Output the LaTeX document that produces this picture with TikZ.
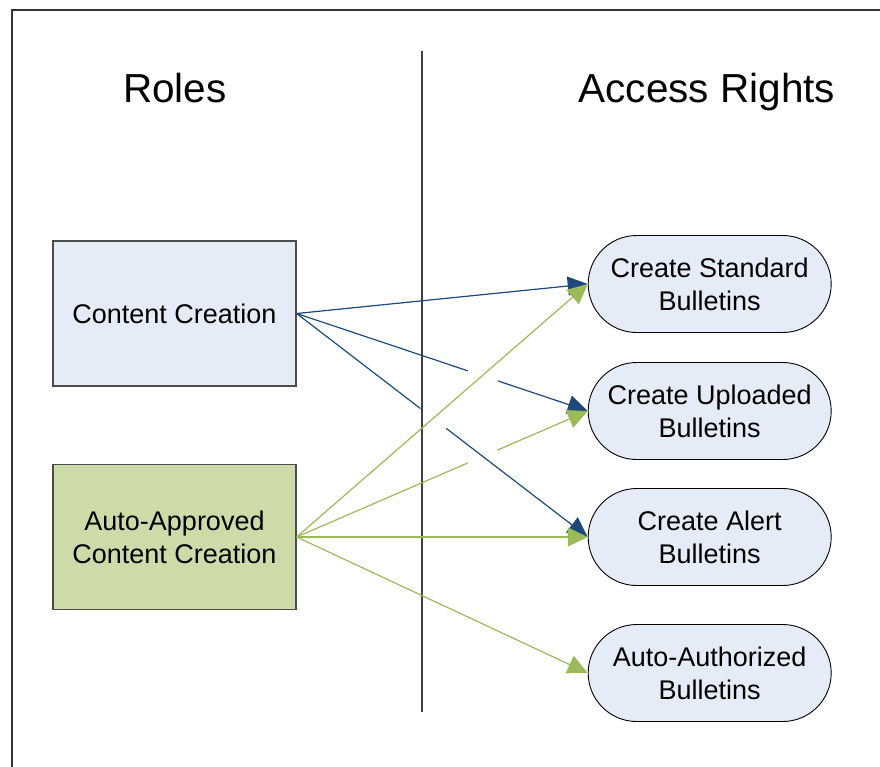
\documentclass[tikz,border=0pt]{standalone}
\usepackage{fontspec}
\setmainfont{Liberation Sans}
\usetikzlibrary{arrows.meta,shapes.misc,calc}
\definecolor{ablue}{HTML}{1F497D}
\definecolor{agreen}{HTML}{9BBB59}
\definecolor{lblue}{HTML}{E6ECF7}
\definecolor{lgreen}{HTML}{CDDBA8}
\begin{document}
\begin{tikzpicture}[x=1pt,y=-1pt,
  rolebox/.style={draw=black!70, line width=1.3pt, minimum width=243pt, minimum height=145pt,
    align=center, font=\fontsize{27}{33}\selectfont, inner sep=0pt},
  rightbox/.style={rounded rectangle, draw=black, line width=0.9pt, fill=lblue,
    minimum width=243pt, minimum height=97pt, align=center,
    font=\fontsize{27}{33}\selectfont, inner sep=0pt},
  titletext/.style={font=\fontsize{40.5}{48}\selectfont, anchor=base, inner sep=0pt},
  bl/.style={draw=ablue, line width=1.2pt},
  gl/.style={draw=agreen, line width=1.2pt},
  tip/.style={-{Triangle[length=20pt,width=19pt]}}
]
\useasboundingbox (0,0) rectangle (880,766);
\clip (0,0) rectangle (880,766);
% frame
\coordinate (fbl) at (12,800);
\coordinate (ftl) at (12,10);
\coordinate (ftr) at (900,10);
\draw[black!80, line width=1.3pt] (fbl) -- (ftl) -- (ftr);
% titles
\node[titletext] (roles) at (175,102) {Roles};
\node[titletext] (access) at (707,102) {Access Rights};
% divider
\coordinate (vtop) at (422,51);
\coordinate (vbot) at (422,712);
\draw[black!75, line width=1.2pt] (vtop) -- (vbot);
% roles
\node[rolebox, fill=lblue] (cc) at (174.5,313.5) {Content Creation};
\node[rolebox, fill=lgreen] (aa) at (174.5,537) {Auto-Approved\\Content Creation};
% rights
\node[rightbox] (std) at (709.7,284) {Create Standard\\Bulletins};
\node[rightbox] (upl) at (709.7,411) {Create Uploaded\\Bulletins};
\node[rightbox] (alr) at (709.7,537) {Create Alert\\Bulletins};
\node[rightbox] (aut) at (709.7,673) {Auto-Authorized\\Bulletins};
% blue connectors
\draw[bl, tip, fill=ablue] (cc.east) -- (std.west);
\draw[bl] (cc.east) -- ($(cc.east)!0.588!(upl.west)$);
\draw[bl, tip, fill=ablue] ($(cc.east)!0.691!(upl.west)$) -- (upl.west);
\draw[bl] (cc.east) -- ($(cc.east)!0.425!(alr.west)$);
\draw[bl, tip, fill=ablue] ($(cc.east)!0.514!(alr.west)$) -- (alr.west);
% green connectors
\draw[gl, tip, fill=agreen] (aa.east) -- (std.west);
\draw[gl] (aa.east) -- ($(aa.east)!0.588!(upl.west)$);
\draw[gl, tip, fill=agreen] ($(aa.east)!0.689!(upl.west)$) -- (upl.west);
\draw[gl, tip, fill=agreen] (aa.east) -- (alr.west);
\draw[gl, tip, fill=agreen] (aa.east) -- (aut.west);
\end{tikzpicture}
\end{document}
